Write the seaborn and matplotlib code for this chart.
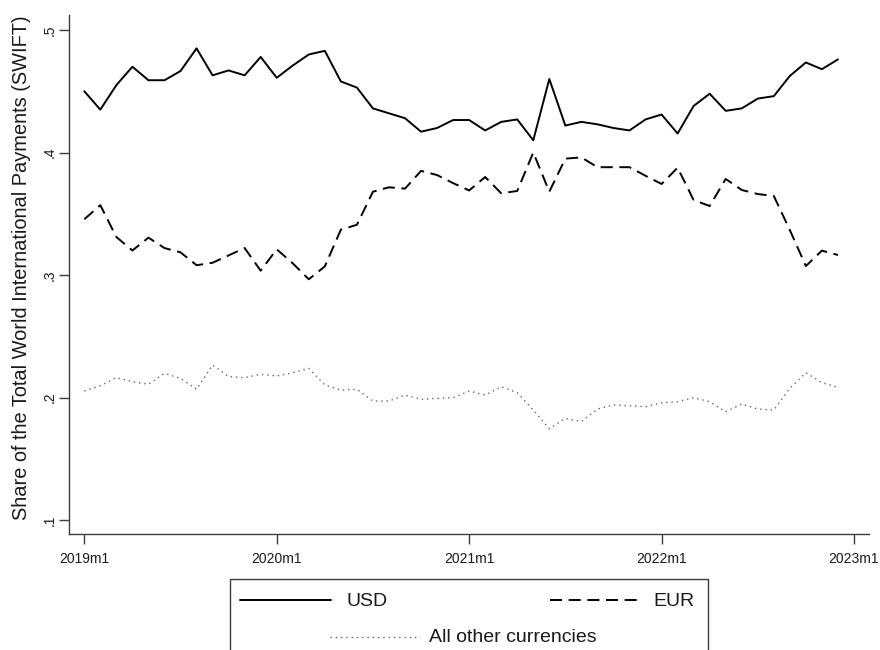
import numpy as np
import pandas as pd
import seaborn as sns
import matplotlib.pyplot as plt
from matplotlib.lines import Line2D
from matplotlib.patches import Rectangle

# Monthly shares of world international payments (SWIFT), 2019m1 - 2022m12
usd = [0.450, 0.435, 0.455, 0.470, 0.459, 0.459, 0.4665, 0.485, 0.463, 0.467, 0.463, 0.478,
       0.461, 0.471, 0.480, 0.483, 0.458, 0.453, 0.436, 0.432, 0.428, 0.417, 0.420, 0.4265,
       0.4265, 0.418, 0.425, 0.427, 0.410, 0.460, 0.422, 0.425, 0.423, 0.420, 0.418, 0.427,
       0.431, 0.4155, 0.438, 0.448, 0.434, 0.436, 0.444, 0.446, 0.4625, 0.4735, 0.468, 0.476]
eur = [0.3455, 0.357, 0.331, 0.320, 0.3305, 0.322, 0.3185, 0.308, 0.310, 0.316, 0.322, 0.3035,
       0.321, 0.3095, 0.2965, 0.307, 0.337, 0.341, 0.368, 0.3716, 0.3705, 0.385, 0.3816, 0.375,
       0.369, 0.380, 0.3667, 0.3686, 0.400, 0.368, 0.395, 0.396, 0.388, 0.388, 0.388, 0.381,
       0.3743, 0.3876, 0.3612, 0.3563, 0.3784, 0.3694, 0.3661, 0.3645, 0.3367, 0.3073, 0.3199, 0.3163]
other = [0.2053, 0.2096, 0.2162, 0.2129, 0.2108, 0.2197, 0.2157, 0.2067, 0.2265, 0.217, 0.2162, 0.2189,
         0.2176, 0.2202, 0.2238, 0.2102, 0.2061, 0.2067, 0.1971, 0.1971, 0.202, 0.1985, 0.1993, 0.1998,
         0.2053, 0.202, 0.2088, 0.2039, 0.1898, 0.1745, 0.183, 0.1803, 0.1906, 0.1939, 0.1933, 0.1925,
         0.1957, 0.1966, 0.1998, 0.1966, 0.1884, 0.1947, 0.1906, 0.1898, 0.2075, 0.2202, 0.2121, 0.2083]

years = [2019, 2020, 2021, 2022]
month_labels = [f"{y}m{m}" for y in years for m in range(1, 13)]
tick_labels = ["2019m1", "2020m1", "2021m1", "2022m1", "2023m1"]
ytick_values = [0.1, 0.2, 0.3, 0.4, 0.5]
ytick_labels = [".1", ".2", ".3", ".4", ".5"]

df = pd.DataFrame({"month": np.arange(len(month_labels)), "label": month_labels,
                   "USD": usd, "EUR": eur, "All other currencies": other})

sns.set_theme(style="white")
plt.rcParams["font.family"] = ["Liberation Sans", "DejaVu Sans"]

fig = plt.figure(figsize=(8.8, 6.5), dpi=100)
ax = fig.add_axes([69 / 880, 1 - 534 / 650, 800 / 880, 519 / 650])

axis_col = "#3c3c3c"

sns.lineplot(data=df, x="month", y="USD", ax=ax, color="black", linewidth=1.4)
sns.lineplot(data=df, x="month", y="EUR", ax=ax, color="black", linewidth=1.4)
ax.lines[-1].set_dashes((6.2, 3.4))
sns.lineplot(data=df, x="month", y="All other currencies", ax=ax, color="#666666", linewidth=1.0)
ax.lines[-1].set_dashes((1, 2.8))

px_per_month = 16.035
ax.set_xlim(-15.3 / px_per_month, 784.7 / px_per_month)
ax.set_ylim(0.1 - 14 / 1225, 0.5 + 15 / 1225)

ax.set_xticks([0, 12, 24, 36, 48])
ax.set_xticklabels(tick_labels)
ax.set_yticks(ytick_values)
ax.set_yticklabels(ytick_labels, rotation=90, va="center")

ax.tick_params(axis="both", which="major", direction="out", length=7, width=1.0,
               color=axis_col, labelsize=10, labelcolor="#1a1a1a", bottom=True, left=True)
ax.tick_params(axis="x", pad=6)
ax.tick_params(axis="y", pad=2)

for side in ["top", "right"]:
    ax.spines[side].set_visible(False)
for side in ["left", "bottom"]:
    ax.spines[side].set_color(axis_col)
    ax.spines[side].set_linewidth(1.0)

ax.set_xlabel("")
ax.set_ylabel("Share of the Total World International Payments (SWIFT)", fontsize=14.4,
              color="#1a1a1a")
ax.yaxis.set_label_coords(-38 / 800, 0.513)
ax.grid(False)


# Legend box below the plot
def fx(x):
    return x / 880


def fy(y):
    return 1 - y / 650


box = Rectangle((fx(230), fy(665)), fx(708) - fx(230), fy(579) - fy(665),
                transform=fig.transFigure, fill=False, edgecolor=axis_col, linewidth=1.0,
                clip_on=False)
fig.patches.append(box)

k1 = Line2D([fx(240), fx(331)], [fy(600), fy(600)], transform=fig.transFigure,
            color="black", linewidth=1.4)
k2 = Line2D([fx(550), fx(640)], [fy(600), fy(600)], transform=fig.transFigure,
            color="black", linewidth=1.4)
k2.set_dashes((6.2, 3.4))
k3 = Line2D([fx(330), fx(420)], [fy(637), fy(637)], transform=fig.transFigure,
            color="#666666", linewidth=1.0)
k3.set_dashes((1, 2.8))
for k in (k1, k2, k3):
    fig.lines.append(k)

fig.text(fx(346), fy(601), "USD", fontsize=14, va="center", ha="left", color="#1a1a1a")
fig.text(fx(653), fy(601), "EUR", fontsize=14, va="center", ha="left", color="#1a1a1a")
fig.text(fx(429), fy(638), "All other currencies", fontsize=14, va="center", ha="left",
         color="#1a1a1a")

fig.savefig("out.png", dpi=100, facecolor="white")
